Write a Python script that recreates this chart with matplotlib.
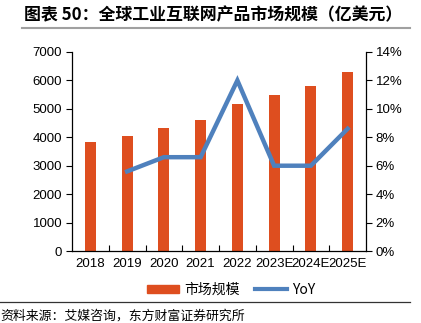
import matplotlib
matplotlib.use("Agg")
import matplotlib.pyplot as plt
from matplotlib.lines import Line2D
from matplotlib.patches import Patch

plt.rcParams['font.family'] = ['Noto Sans CJK SC', 'DejaVu Sans']

categories = ["2018", "2019", "2020", "2021", "2022", "2023E", "2024E", "2025E"]
market_size = [3840, 4060, 4320, 4610, 5170, 5480, 5810, 6300]
yoy_years = ["2019", "2020", "2021", "2022", "2023E", "2024E", "2025E"]
yoy = [5.6, 6.6, 6.6, 12.0, 6.0, 6.0, 8.6]
left_ticks = [0, 1000, 2000, 3000, 4000, 5000, 6000, 7000]
right_ticks = [0, 2, 4, 6, 8, 10, 12, 14]

bar_color = "#DE4E1F"
line_color = "#4F81BD"

fig = plt.figure(figsize=(4.21, 3.23), dpi=100)
W, H = 421, 323
ax = fig.add_axes([72 / W, 1 - 251 / H, (366 - 72) / W, (251 - 52) / H])
ax2 = ax.twinx()

x = list(range(len(categories)))
ax.bar(x, market_size, width=0.3, color=bar_color, zorder=2)
ax.set_xlim(-0.5, len(categories) - 0.5)
ax.set_ylim(0, 7000)
ax.set_yticks(left_ticks)
ax.set_yticklabels([str(v) for v in left_ticks], fontsize=9.5, family=['Liberation Sans', 'DejaVu Sans'])
ax.set_xticks(x)
ax.set_xticklabels(categories, fontsize=9.5, family=['Liberation Sans', 'DejaVu Sans'])
ax.tick_params(axis='x', length=0, pad=5)
ax.set_xticks([i + 0.5 for i in range(len(categories) - 1)], minor=True)
ax.tick_params(axis='x', which='minor', length=4, direction='in', width=0.8)
ax.tick_params(axis='y', length=4, direction='out', width=0.8, pad=3)

xi = [categories.index(c) for c in yoy_years]
ax2.plot(xi, yoy, color=line_color, lw=3.2, solid_joinstyle='miter', zorder=3)
ax2.set_ylim(0, 14)
ax2.set_yticks(right_ticks)
ax2.set_yticklabels([f"{v}%" for v in right_ticks], fontsize=9.5, family=['Liberation Sans', 'DejaVu Sans'])
ax2.tick_params(axis='y', length=4, direction='out', width=0.8, pad=3)

for a in (ax, ax2):
    a.spines['top'].set_visible(False)
    for s in ('left', 'right', 'bottom'):
        a.spines[s].set_linewidth(0.9)
ax.spines['right'].set_visible(False)
ax2.spines['left'].set_visible(False)
ax2.spines['bottom'].set_visible(False)

# Title
fig.text(24 / W, 1 - 15 / H, "图表 50：全球工业互联网产品市场规模（亿美元）",
         fontsize=12.2, fontweight='bold', va='center', ha='left')
fig.add_artist(Line2D([22 / W, 410 / W], [1 - 28 / H, 1 - 28 / H],
                      color="#A0A0A0", lw=1.5, transform=fig.transFigure))

# Legend
handles = [Patch(color=bar_color), Line2D([0], [0], color=line_color, lw=3)]
fig.legend(handles, ["市场规模", "YoY"], loc='center', bbox_to_anchor=(231 / W, 1 - 290 / H),
           ncol=2, frameon=False, fontsize=10, handlelength=2.3, handleheight=0.55,
           columnspacing=1.1, handletextpad=0.35, borderpad=0)

fig.add_artist(Line2D([0, 410 / W], [1 - 302 / H, 1 - 302 / H],
                      color="#333333", lw=0.9, transform=fig.transFigure))
fig.text(0, 1 - 316 / H, "资料来源：艾媒咨询，东方财富证券研究所", fontsize=9.3, va='center', ha='left')

fig.savefig("out.png", dpi=100)
